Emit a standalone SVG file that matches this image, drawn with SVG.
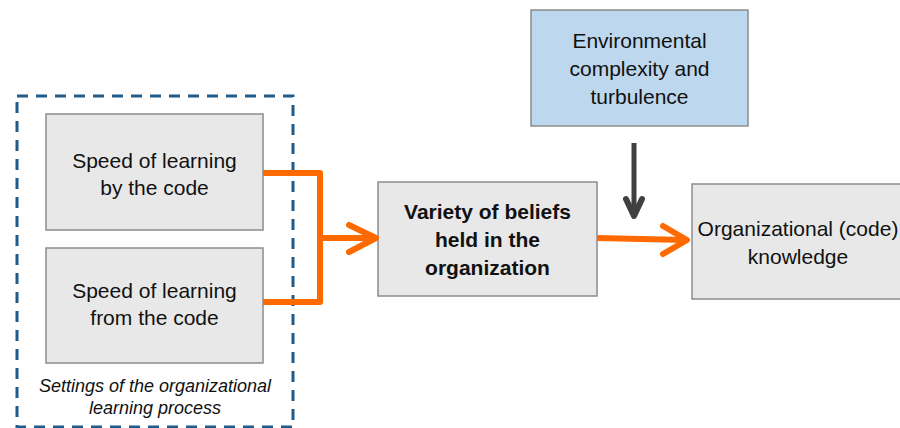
<svg xmlns="http://www.w3.org/2000/svg" width="900" height="428" viewBox="0 0 900 428">
  <style>
    .box { fill: #e8e8e8; stroke: #8c8c8c; stroke-width: 1.5; }
    .env { fill: #bdd7ee; stroke: #8c8c8c; stroke-width: 1.5; }
    .t { font-family: "Liberation Sans", Arial, sans-serif; font-size: 21px; fill: #111; text-anchor: middle; }
    .b { font-weight: bold; }
    .cap { font-family: "Liberation Sans", Arial, sans-serif; font-size: 18px; font-style: italic; fill: #111; text-anchor: middle; }
    .orange { fill: none; stroke: #ff6a00; stroke-width: 6; stroke-linejoin: round; }
    .head { fill: none; stroke-width: 6; stroke-linecap: round; stroke-linejoin: round; }
    .dark { fill: none; stroke: #404040; stroke-width: 5; }
  </style>
  <rect width="900" height="428" fill="#ffffff"/>

  <!-- settings frame -->
  <g id="settings">
    <rect x="17" y="96" width="276" height="331" fill="none" stroke="#1f5c8b" stroke-width="3" stroke-dasharray="11,8"/>
    <text class="cap" x="155" y="392">Settings of the organizational</text>
    <text class="cap" x="155" y="414">learning process</text>
  </g>

  <g id="speed-by">
    <rect class="box" x="46" y="114" width="217" height="116"/>
    <text class="t" x="154.5" y="168">Speed of learning</text>
    <text class="t" x="154.5" y="195">by the code</text>
  </g>

  <g id="speed-from">
    <rect class="box" x="46" y="248" width="217" height="115"/>
    <text class="t" x="154.5" y="298">Speed of learning</text>
    <text class="t" x="154.5" y="325">from the code</text>
  </g>

  <g id="variety">
    <rect class="box" x="378" y="182" width="219" height="114"/>
    <text class="t b" x="487.5" y="219">Variety of beliefs</text>
    <text class="t b" x="487.5" y="247">held in the</text>
    <text class="t b" x="487.5" y="275">organization</text>
  </g>

  <g id="environment">
    <rect class="env" x="531" y="10" width="217" height="116"/>
    <text class="t" x="639.5" y="48">Environmental</text>
    <text class="t" x="639.5" y="76">complexity and</text>
    <text class="t" x="639.5" y="104">turbulence</text>
  </g>

  <g id="knowledge">
    <rect class="box" x="692" y="184" width="220" height="115"/>
    <text class="t" x="798" y="236">Organizational (code)</text>
    <text class="t" x="798" y="264">knowledge</text>
  </g>

  <g id="connectors">
    <!-- both speeds merge into variety -->
    <polyline class="orange" points="263,173 320,173 320,302 263,302"/>
    <line class="orange" x1="320" y1="238" x2="374" y2="238"/>
    <polyline class="head" stroke="#ff6a00" points="349,225 376,238 349,252"/>
    <!-- variety to knowledge -->
    <line class="orange" x1="597" y1="238" x2="685" y2="240"/>
    <polyline class="head" stroke="#ff6a00" points="663,226 687,240 663,254"/>
    <!-- environment moderates -->
    <line class="dark" x1="634" y1="143" x2="634" y2="214"/>
    <polyline class="head" stroke="#404040" stroke-width="5" points="626,199 634,216 642,199"/>
  </g>
</svg>
